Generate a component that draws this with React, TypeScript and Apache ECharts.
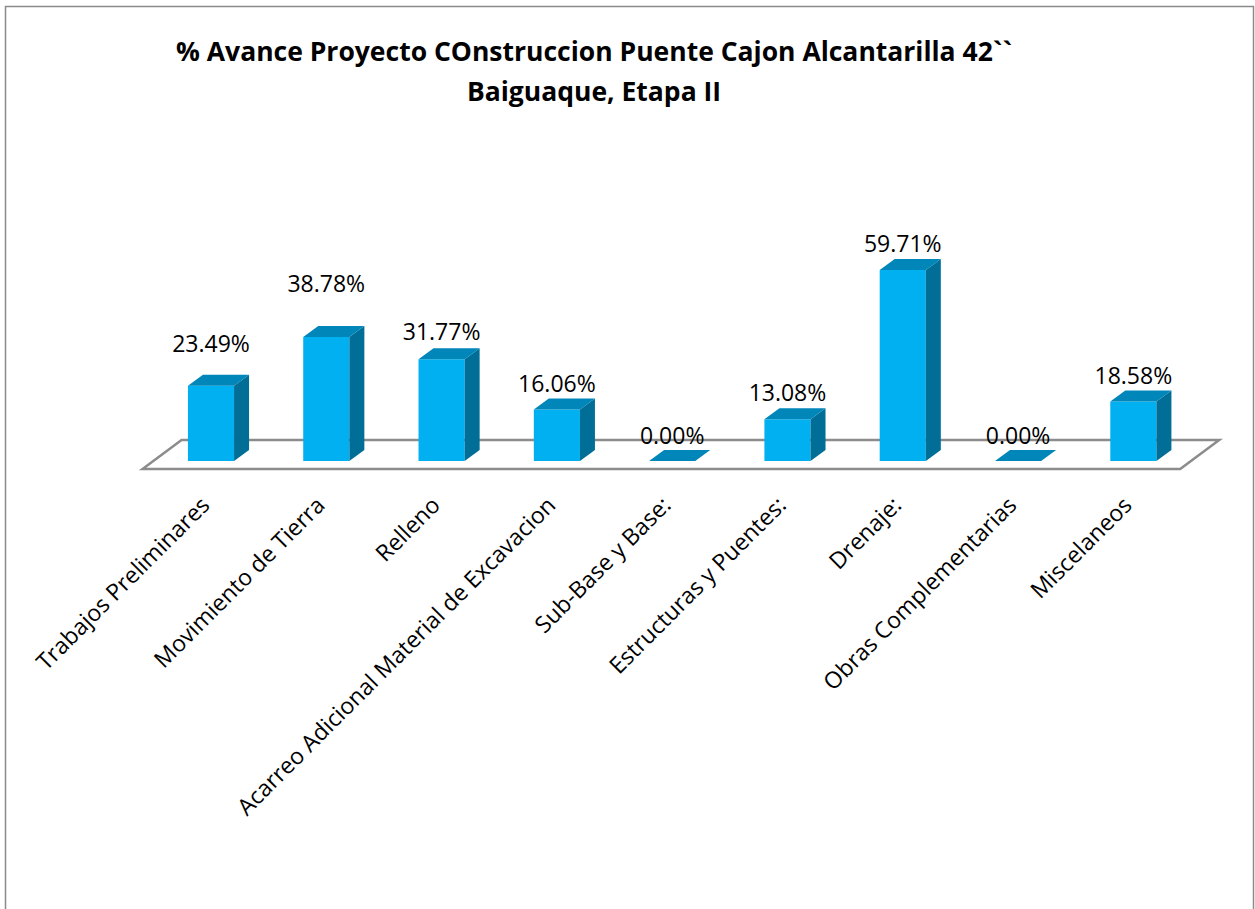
import React, { useEffect, useRef } from "react";
import * as echarts from "echarts";

const categories: string[] = [
  "Trabajos Preliminares",
  "Movimiento de Tierra",
  "Relleno",
  "Acarreo Adicional Material de Excavacion",
  "Sub-Base y Base:",
  "Estructuras y Puentes:",
  "Drenaje:",
  "Obras Complementarias",
  "Miscelaneos",
];
const values: number[] = [23.49, 38.78, 31.77, 16.06, 0.0, 13.08, 59.71, 0.0, 18.58];
// extra vertical lift (px) of each value label above its bar top, as placed in the original
const labelLift: number[] = [43, 54, 28, 27, 26, 27, 27, 26, 27];

const titleText = "% Avance Proyecto COnstruccion Puente Cajon Alcantarilla 42``\nBaiguaque, Etapa II";

const FONT = "'Open Sans', 'Noto Sans', sans-serif";
const FRONT = "#00B0F0";
const TOP = "#0086B8";
const SIDE = "#006E96";

export default function App() {
  const ref = useRef<HTMLDivElement>(null);
  useEffect(() => {
    if (!ref.current) return;
    const chart = echarts.init(ref.current, undefined, { renderer: "svg" });
    const dx = 15;
    const dy = -11;
    const option: any = {
      animation: false,
      backgroundColor: "#ffffff",
      title: {
        text: titleText,
        left: 589,
        top: 26,
        textAlign: "center",
        textStyle: {
          fontFamily: FONT,
          fontSize: 26.5,
          fontWeight: "bold",
          color: "#000",
          lineHeight: 40,
        },
      },
      graphic: [
        {
          type: "rect",
          shape: { x: 5.5, y: 6.5, width: 1248, height: 940 },
          style: { fill: "none", stroke: "#8a8a8a", lineWidth: 1.5 },
          silent: true,
        },
      ],
      grid: { left: 153.35, right: 64, top: 141, bottom: 448, containLabel: false },
      xAxis: {
        type: "category",
        data: categories,
        axisLine: { show: false },
        axisTick: { show: false },
        axisLabel: {
          interval: 0,
          rotate: 45,
          margin: 33,
          padding: [0, 9, 0, 0],
          fontSize: 23,
          fontFamily: FONT,
          color: "#000",
        },
        splitLine: { show: false },
      },
      yAxis: { type: "value", min: 0, max: 100, show: false, splitLine: { show: false } },
      series: [
        {
          type: "custom",
          z: 1,
          silent: true,
          data: [[0, 0]],
          renderItem: (params: any, api: any) => {
            const cs = params.coordSys;
            const y0 = api.coord([0, 0])[1];
            const xl = cs.x;
            const xr = cs.x + cs.width;
            const f = { dx: -10.8, dy: 8 };
            const b = { dx: 28.2, dy: -21 };
            return {
              type: "polygon",
              shape: {
                points: [
                  [xl + f.dx, y0 + f.dy],
                  [xr + f.dx, y0 + f.dy],
                  [xr + b.dx, y0 + b.dy],
                  [xl + b.dx, y0 + b.dy],
                ],
              },
              style: { fill: "#ffffff", stroke: "#8c8c8c", lineWidth: 2.5 },
            };
          },
        },
        {
          type: "custom",
          z: 2,
          data: values.map((v, i) => [i, v]),
          renderItem: (params: any, api: any) => {
            const i = api.value(0);
            const v = api.value(1);
            const base = api.coord([i, 0]);
            const top = api.coord([i, v]);
            const bw = api.size([1, 0])[0] * 0.4;
            const xl = base[0] - bw / 2;
            const xr = base[0] + bw / 2;
            const yb = base[1];
            const yt = top[1];
            const children: any[] = [];
            if (v > 0) {
              children.push({
                type: "rect",
                shape: { x: xl, y: yt, width: bw, height: yb - yt },
                style: { fill: FRONT },
              });
              children.push({
                type: "polygon",
                shape: { points: [[xr, yb], [xr + dx, yb + dy], [xr + dx, yt + dy], [xr, yt]] },
                style: { fill: SIDE },
              });
            }
            children.push({
              type: "polygon",
              shape: { points: [[xl, yt], [xr, yt], [xr + dx, yt + dy], [xl + dx, yt + dy]] },
              style: { fill: TOP },
            });
            children.push({
              type: "text",
              style: {
                text: v.toFixed(2) + "%",
                x: base[0],
                y: yt - labelLift[params.dataIndex],
                align: "center",
                verticalAlign: "middle",
                fontSize: 23,
                fontFamily: FONT,
                fill: "#000",
              },
            });
            return { type: "group", children };
          },
        },
      ],
    };
    chart.setOption(option);
    return () => chart.dispose();
  }, []);
  return (
    <div
      ref={ref}
      style={{ position: "fixed", left: 0, top: 0, width: 1255, height: 909 }}
    />
  );
}
